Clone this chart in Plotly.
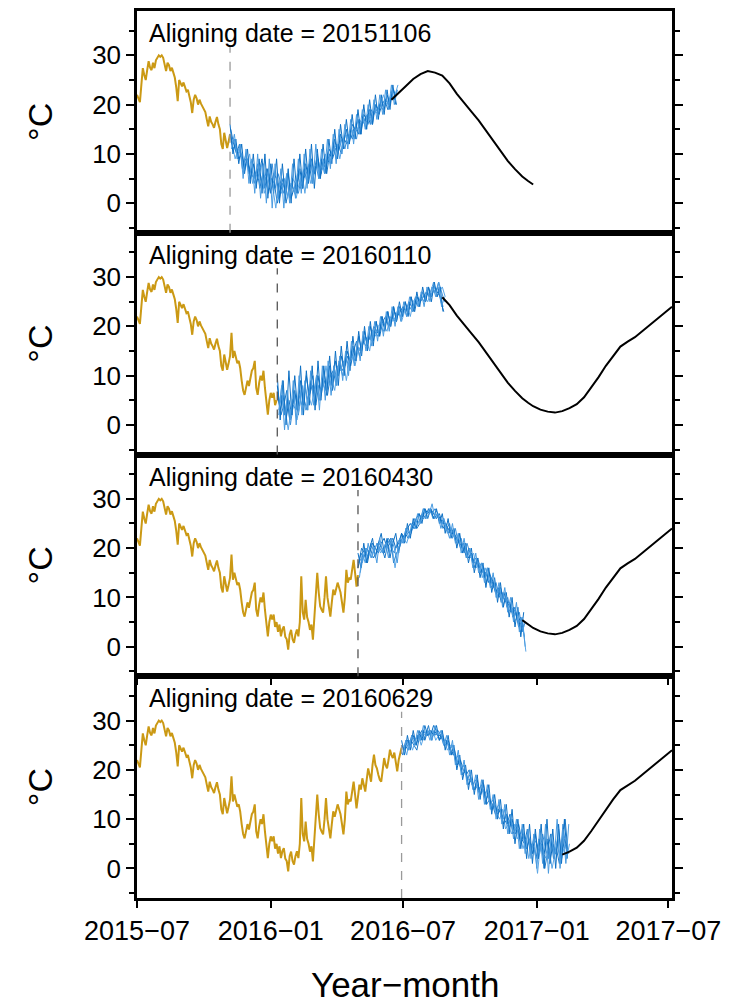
import numpy as np
import pandas as pd
import plotly.graph_objects as go
from plotly.subplots import make_subplots

# fechas de alineacion de cada panel
align_dates = ["2015-11-06", "2016-01-10", "2016-04-30", "2016-06-29"]
align_labels = ["20151106", "20160110", "20160430", "20160629"]
clim_end = ["2016-12-27", "2017-07-06", "2017-07-06", "2017-07-06"]

# observaciones (cada 2 dias desde 2015-07-01)
gold_start = "2015-07-01"
gold_temp = [
    22, 21, 20.5, 24, 27.4, 26, 25, 27, 28.8, 27.5, 27, 28.5, 27.4, 29, 29.5,
    30, 29.7, 30, 29.5, 28, 26.8, 28.5, 28, 26.8, 27.5, 26.5, 25.5, 23.5, 20.7, 25,
    24.5, 23.7, 24.5, 23.5, 22.7, 23, 22, 20.5, 18.3, 21, 22, 21.3, 20, 21, 20.2,
    19.7, 19, 18.5, 17, 15.6, 17.6, 16.5, 16, 15.3, 16.5, 17.5, 16, 15, 12, 11,
    14.3, 13, 11.2, 12.5, 14, 18.7, 13.6, 15, 14, 12.5, 13, 11.5, 9, 7, 6.1,
    8, 9, 7.9, 9.5, 11, 11.5, 13, 7.5, 6.1, 8.5, 10, 9, 11, 7.5, 5,
    2.1, 5, 6.5, 5.5, 6.5, 4, 5, 3, 4.5, 2.1, 3.5, 4.1, 2, 1.5, -0.6,
    2.5, 3.4, 1.5, 0.8, 2.5, 3.5, 2.1, 5, 14.3, 7, 5.5, 9.5, 6, 5, 3.4,
    4.5, 1.4, 6, 10, 15, 11, 8.2, 7.5, 6.9, 10, 14.3, 10, 8, 6.1, 9,
    11.6, 10.5, 12, 13, 12, 11, 9, 6.9, 10, 15.6, 13, 14, 13.6, 16, 17.6,
    15, 12.2, 14.5, 17, 16, 18.3, 17, 15.6, 18, 20.3, 19, 17.6, 21, 23.1, 21,
    20.3, 19, 18, 17.6, 20, 22.4, 21, 20.3, 22, 24.1, 23, 22.4, 23.5, 21, 19.7,
    22, 23, 24.5,
]

# miembros del ensamble (cada 4 dias desde la fecha de alineacion)
ens_p1 = [
    [14, 11, 12, 9, 10, 7, 9, 5, 8, 4, 6, 9, 3, 7, 2, 6, 5, 1, 4, 3, 6, 1, 3, 4, 7, 3, 8, 5, 9, 6,
     10, 5, 8, 7, 11, 10, 13, 10, 14, 12, 15, 12, 16, 15, 17, 14, 18, 17, 19, 16, 20, 19, 21, 19, 22, 20, 23, 22],
    [12, 13, 9, 11, 8, 10, 6, 7, 4, 8, 5, 3, 7, 4, 8, 3, 6, 4, 2, 6, 1, 5, 4, 2, 5, 7, 4, 9, 6, 8,
     5, 9, 6, 10, 8, 12, 9, 11, 13, 11, 14, 13, 15, 13, 17, 16, 17, 16, 19, 18, 19, 20, 19, 21, 20, 22, 21, 23],
    [15, 12, 10, 12, 7, 9, 8, 6, 5, 7, 3, 6, 5, 2, 5, 4, 0, 3, 5, 0, 3, 4, 2, 6, 3, 5, 6, 8, 4, 7,
     9, 6, 9, 6, 10, 9, 11, 12, 10, 13, 12, 14, 13, 16, 14, 16, 17, 18, 16, 18, 20, 18, 20, 21, 19, 21, 23, 20],
    [12, 9, 11, 10, 6, 8, 10, 4, 6, 5, 8, 2, 4, 6, 3, -1, 4, 2, 5, 1, 4, 3, 1, 4, 6, 2, 7, 4, 7, 8,
     6, 7, 10, 8, 9, 11, 12, 9, 12, 14, 13, 15, 14, 15, 16, 17, 15, 18, 17, 19, 18, 20, 22, 20, 21, 23, 22, 24],
    [16, 10, 13, 8, 12, 6, 11, 4, 10, 3, 9, 2, 10, 1, 8, 2, 9, 0, 8, 1, 7, 0, 9, 2, 10, 3, 11, 4, 12, 3,
     11, 5, 12, 6, 13, 8, 15, 9, 16, 11, 17, 12, 18, 13, 19, 14, 20, 15, 21, 16, 22, 17, 22, 18, 23, 19, 24, 20],
    [11, 14, 9, 12, 5, 11, 4, 9, 2, 10, 1, 8, 0, 9, -1, 8, 1, 7, -1, 6, 0, 8, 1, 9, 2, 10, 3, 11, 4, 12,
     5, 11, 6, 13, 7, 14, 8, 15, 10, 16, 11, 17, 12, 18, 14, 19, 15, 20, 16, 21, 17, 22, 18, 23, 19, 24, 20, 23],
]
ens_p2 = [
    [8, 3, 6, 1, 5, 2, 7, 3, 9, 4, 10, 6, 8, 5, 10, 6, 11, 7, 12, 8, 13, 10, 14, 11, 15, 13, 16, 13, 18, 15,
     19, 16, 20, 17, 21, 18, 22, 20, 23, 20, 24, 21, 24, 22, 25, 23, 26, 24, 26, 25, 27, 25, 28, 26, 28, 27, 26, 24],
    [3, 6, 2, 5, 0, 4, 3, 6, 4, 8, 5, 9, 6, 10, 5, 9, 7, 11, 8, 12, 9, 12, 10, 14, 12, 15, 13, 16, 15, 17,
     16, 18, 17, 19, 18, 20, 19, 21, 20, 22, 21, 23, 22, 24, 22, 24, 23, 25, 24, 26, 25, 27, 26, 27, 27, 29, 27, 25],
    [6, 2, 4, 7, 1, 5, 6, 2, 7, 5, 3, 8, 10, 4, 8, 7, 9, 6, 10, 11, 8, 13, 11, 12, 14, 12, 15, 17, 14, 16,
     18, 17, 18, 20, 19, 18, 21, 22, 20, 21, 23, 22, 23, 24, 23, 25, 24, 23, 26, 25, 26, 27, 26, 28, 27, 28, 25, 23],
    [4, 9, 3, -1, 3, 6, 1, 4, 8, 3, 6, 4, 7, 9, 5, 8, 12, 8, 9, 7, 12, 11, 13, 9, 13, 14, 12, 15, 16, 18,
     17, 15, 19, 18, 20, 21, 20, 19, 22, 21, 22, 24, 21, 23, 24, 22, 25, 26, 24, 27, 26, 25, 27, 29, 26, 27, 28, 26],
    [10, 1, 9, 0, 11, 2, 10, 3, 12, 2, 11, 4, 12, 3, 13, 5, 12, 6, 14, 7, 15, 8, 16, 10, 17, 11, 18, 13, 19, 14,
     20, 15, 21, 16, 21, 18, 22, 19, 23, 20, 24, 21, 25, 22, 25, 22, 26, 23, 27, 24, 28, 25, 28, 25, 29, 26, 28, 23],
    [2, 8, -1, 7, 1, 9, 0, 10, 2, 9, 3, 11, 4, 10, 3, 12, 5, 13, 6, 12, 8, 14, 9, 15, 10, 17, 12, 17, 13, 19,
     15, 20, 16, 21, 17, 22, 18, 23, 19, 24, 20, 24, 21, 25, 22, 26, 23, 26, 24, 27, 24, 28, 25, 28, 26, 29, 24, 26],
]
ens_p3 = [
    [16, 19, 18, 20, 19, 21, 20, 19, 21, 22, 20, 21, 22, 20, 21, 23, 22, 24, 25, 24, 26, 27, 26, 28, 27, 28, 27, 26, 27, 25,
     25, 24, 23, 23, 22, 21, 20, 20, 18, 19, 17, 17, 16, 15, 15, 13, 14, 12, 11, 12, 10, 9, 9, 7, 8, 5, 6, 4],
    [18, 17, 20, 18, 21, 19, 21, 20, 19, 21, 22, 20, 19, 21, 22, 21, 24, 23, 24, 26, 25, 26, 28, 27, 28, 27, 28, 27, 25, 26,
     24, 25, 22, 24, 21, 22, 19, 21, 19, 17, 18, 16, 17, 14, 16, 14, 12, 13, 10, 11, 9, 10, 7, 8, 6, 7, 3, 5],
    [17, 20, 19, 17, 20, 18, 19, 21, 20, 18, 21, 22, 17, 19, 20, 22, 23, 22, 23, 25, 24, 25, 27, 26, 28, 27, 26, 27, 26, 24,
     25, 23, 24, 22, 22, 20, 21, 18, 20, 18, 16, 18, 15, 16, 13, 15, 13, 11, 12, 9, 11, 8, 9, 6, 7, 4, 5, 2],
    [15, 18, 20, 19, 18, 20, 21, 19, 20, 21, 19, 20, 16, 20, 21, 22, 21, 23, 24, 24, 25, 26, 26, 27, 28, 26, 27, 26, 25, 25,
     23, 24, 23, 21, 23, 20, 21, 19, 18, 19, 16, 17, 14, 16, 14, 12, 13, 10, 12, 8, 10, 7, 8, 5, 6, 3, 4, -1],
    [19, 16, 21, 17, 20, 22, 18, 21, 23, 19, 22, 18, 21, 23, 19, 23, 21, 25, 22, 26, 24, 27, 25, 28, 26, 28, 26, 28, 25, 27,
     23, 26, 22, 24, 20, 23, 19, 21, 17, 20, 15, 18, 14, 17, 12, 16, 11, 14, 9, 13, 8, 11, 6, 10, 4, 8, 2, 7],
    [14, 19, 17, 21, 18, 20, 17, 22, 19, 21, 18, 22, 20, 17, 22, 21, 24, 22, 25, 24, 27, 25, 28, 26, 27, 29, 26, 27, 24, 26,
     24, 22, 25, 21, 23, 19, 22, 18, 20, 16, 19, 15, 17, 13, 16, 12, 15, 10, 13, 9, 12, 7, 10, 5, 9, 3, 6, 0],
]
ens_p4 = [
    [25, 24, 26, 25, 27, 25, 27, 28, 26, 28, 27, 29, 28, 26, 27, 25, 26, 24, 23, 22, 21, 19, 20, 17, 18, 16, 18, 15, 16, 14,
     15, 12, 13, 11, 12, 9, 11, 8, 10, 7, 8, 5, 7, 4, 6, 3, 7, 2, 5, 3, 6, 1, 5, 3, 8, 2, 6, 4],
    [24, 26, 25, 27, 26, 27, 26, 28, 27, 27, 28, 27, 28, 27, 25, 26, 24, 25, 22, 23, 20, 21, 18, 19, 17, 18, 16, 17, 15, 16,
     13, 14, 12, 13, 10, 12, 9, 10, 8, 9, 6, 8, 5, 7, 4, 6, 5, 3, 7, 4, 2, 6, 3, 5, 2, 9, 4, 3],
    [23, 25, 24, 26, 25, 24, 27, 26, 27, 29, 26, 28, 27, 27, 26, 26, 25, 23, 24, 21, 22, 20, 19, 20, 17, 16, 17, 15, 17, 13,
     14, 13, 11, 12, 11, 10, 9, 11, 7, 8, 9, 6, 5, 8, 3, 5, 2, 6, 4, 0, 4, 7, 2, 4, 1, 5, 10, 3],
    [25, 23, 26, 24, 26, 27, 25, 27, 28, 26, 28, 26, 27, 28, 26, 24, 25, 25, 21, 23, 19, 20, 18, 18, 16, 17, 15, 16, 14, 15,
     12, 13, 11, 10, 12, 8, 9, 7, 9, 6, 7, 4, 6, 2, 5, 4, -1, 5, 3, 2, 4, 0, 3, 6, 1, 4, 2, 5],
    [26, 23, 27, 24, 28, 25, 28, 26, 29, 27, 28, 27, 29, 26, 28, 24, 27, 23, 25, 20, 23, 18, 21, 16, 20, 15, 19, 14, 18, 13,
     17, 11, 15, 10, 14, 8, 13, 7, 12, 5, 10, 4, 9, 2, 9, 1, 8, 2, 9, 0, 10, 1, 8, 0, 9, 1, 10, 2],
    [23, 26, 24, 27, 25, 28, 26, 29, 27, 28, 26, 29, 27, 28, 25, 27, 23, 26, 21, 24, 19, 22, 17, 20, 16, 19, 14, 18, 13, 17,
     12, 15, 10, 14, 9, 13, 7, 11, 6, 10, 4, 9, 3, 8, 2, 7, 0, 8, 1, 9, -1, 7, 2, 10, 0, 8, 1, 9],
]
ensembles = [ens_p1, ens_p2, ens_p3, ens_p4]
# desfase en dias de cada miembro
member_shift = [0, 2, 1, 3, 0, 2]

# climatologia (linea negra)
clim_dates = ["2016-06-15", "2016-06-25", "2016-07-05", "2016-07-15", "2016-07-25", "2016-08-04",
              "2016-08-14", "2016-08-24", "2016-09-03", "2016-09-13", "2016-09-23", "2016-10-03",
              "2016-10-13", "2016-10-23", "2016-11-02", "2016-11-12", "2016-11-22", "2016-12-02",
              "2016-12-12", "2016-12-20", "2016-12-27", "2017-01-06", "2017-01-16", "2017-01-26",
              "2017-02-05", "2017-02-15", "2017-02-25", "2017-03-07", "2017-03-17", "2017-03-27",
              "2017-04-06", "2017-04-16", "2017-04-26", "2017-05-06", "2017-05-16", "2017-05-26",
              "2017-06-05", "2017-06-15", "2017-06-25", "2017-07-06"]
clim_temp = [21, 22.3, 23.8, 25.2, 26.2, 26.8,
             26.5, 25.9, 24.3, 22.2, 20.3, 18.6,
             16.8, 14.8, 12.8, 10.6, 8.6, 6.9,
             5.4, 4.5, 3.8, 3.1, 2.7, 2.5,
             2.8, 3.4, 4.2, 5.6, 7.6, 9.7,
             12.0, 14.0, 15.9, 16.9, 17.8, 19.0,
             20.2, 21.4, 22.6, 24.0]

GOLD = "#CB9914"
BLUES = ["#0A6CC2", "#3A8FDA", "#1B78C8", "#5AA6E6", "#0E70C4", "#4A9BE0"]
FONT = "Liberation Sans, Arial, sans-serif"
dash_colors = ["#9a9a9a", "#555555", "#555555", "#9a9a9a"]

gold_x = pd.Timestamp(gold_start) + pd.to_timedelta(np.arange(0, 365, 2), unit="D")
gold_y = np.array(gold_temp)
ens_day = np.arange(0, 229, 4)
clim_x = pd.to_datetime(clim_dates)
clim_y = np.array(clim_temp)

fig = make_subplots(rows=4, cols=1, shared_xaxes=True, vertical_spacing=0)

for i in range(4):
    r = i + 1
    a = pd.Timestamp(align_dates[i])
    # observado
    m = gold_x <= a
    fig.add_trace(go.Scatter(x=gold_x[m], y=gold_y[m], mode="lines",
                             line=dict(color=GOLD, width=2)), row=r, col=1)
    # ensamble
    for k, member in enumerate(ensembles[i]):
        ens_x = a + pd.to_timedelta(ens_day + member_shift[k], unit="D")
        fig.add_trace(go.Scatter(x=ens_x, y=member, mode="lines",
                                 line=dict(color=BLUES[k], width=1)), row=r, col=1)
    # climatologia
    end_ens = a + pd.Timedelta(days=int(ens_day[-1]))
    idx0 = max(0, int(np.searchsorted(clim_x, end_ens, side="right")) - 1)
    mc = (np.arange(len(clim_x)) >= idx0) & (clim_x <= pd.Timestamp(clim_end[i]))
    fig.add_trace(go.Scatter(x=clim_x[mc], y=clim_y[mc], mode="lines",
                             line=dict(color="black", width=2)), row=r, col=1)
    # linea de alineacion
    xref = "x" if r == 1 else f"x{r}"
    yref = "y domain" if r == 1 else f"y{r} domain"
    fig.add_shape(type="line", x0=a, x1=a, y0=0, y1=0.84, xref=xref, yref=yref,
                  line=dict(color=dash_colors[i], width=1.3, dash="dash"))
    fig.add_annotation(text=f"Aligning date = {align_labels[i]}", xref=xref + " domain",
                       yref=yref, x=0.018, y=0.9, xanchor="left", yanchor="middle",
                       showarrow=False, font=dict(family=FONT, size=25, color="black"))

fig.update_yaxes(range=[-6, 39], tick0=0, dtick=10, ticks="outside", ticklen=8, tickwidth=2,
                 tickcolor="black", showline=True, linecolor="black", linewidth=2.5, mirror="ticks",
                 showgrid=False, zeroline=False,
                 minor=dict(dtick=5, tick0=0, ticks="outside", ticklen=5, tickwidth=2, tickcolor="black"),
                 tickfont=dict(family=FONT, size=26, color="black"),
                 title=dict(text="°C", font=dict(family=FONT, size=34, color="black"), standoff=30))

fig.update_xaxes(range=["2015-07-01", "2017-07-06"], tick0="2015-07-01", dtick="M6",
                 tickformat="%Y\u2212%m", showline=True, linecolor="black", linewidth=2.5, mirror=True,
                 showgrid=False, zeroline=False, ticks="", showticklabels=False)
fig.update_xaxes(ticks="outside", ticklen=7, tickwidth=2, tickcolor="black", showticklabels=True,
                 tickfont=dict(family=FONT, size=27, color="black"), row=4, col=1)
fig.update_xaxes(ticks="outside", ticklen=6, tickwidth=1.5, tickcolor="black", row=3, col=1)

fig.add_annotation(text="Year\u2212month", xref="paper", yref="paper", x=0.5, y=-0.098,
                   xanchor="center", yanchor="middle", showarrow=False,
                   font=dict(family=FONT, size=35, color="black"))

fig.update_layout(width=732, height=995, showlegend=False,
                  margin=dict(l=129, r=68, t=0, b=105),
                  plot_bgcolor="white", paper_bgcolor="white")

fig.write_html("out.html")
